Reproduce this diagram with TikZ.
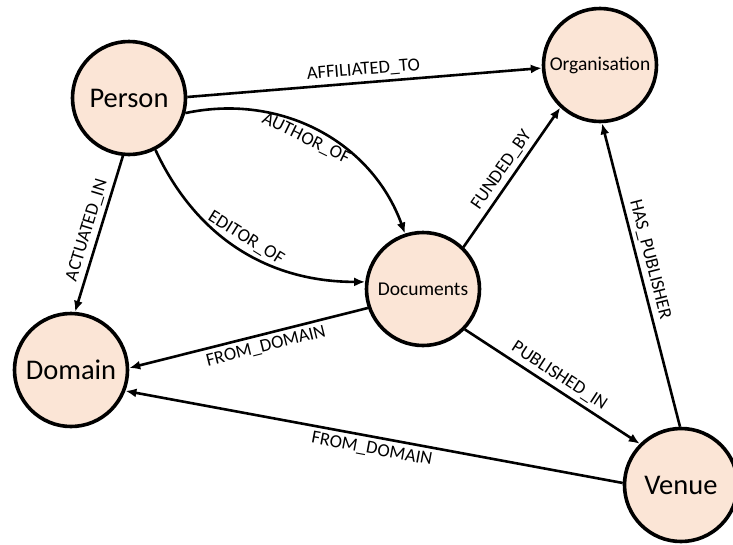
\documentclass[tikz,border=0pt]{standalone}
\usepackage{fontspec}
\setmainfont{Carlito}
\usepackage{tikz}
\usetikzlibrary{arrows.meta}
\usetikzlibrary{positioning}
\definecolor{peach}{HTML}{FBE5D6}
\tikzset{
  ent_n/.style = {circle, draw=black, fill=peach, line width=3.6pt,
    minimum size=113pt, inner sep=0pt, text centered},% entite
  ent_big/.style = {ent_n, font=\fontsize{28.5}{30}\selectfont},% entite, grand texte
  ent_small/.style = {ent_n, font=\fontsize{19.5}{21}\selectfont},% entite, petit texte
  rel/.style = {-{Latex[length=11pt,width=9pt]}, line width=2.6pt},% relation
  rel_lbl/.style = {sloped, inner sep=4pt, font=\fontsize{18.5}{20}\selectfont}% etiquette
}

\begin{document}
\begin{tikzpicture}[x=1pt,y=-1pt]
\useasboundingbox (0,0) rectangle (733,544);
\node [ent_big] (person) at (129,98) {Person};
\node [ent_small] (org) at (600,65) {Organisation};
\node [ent_small] (docs) at (423,289) {Documents};
\node [ent_big] (domain) at (71,370) {Domain};
\node [ent_big] (venue) at (681,485) {Venue};

\draw [rel] (person.1) -- node [rel_lbl, above] {AFFILIATED\_TO} (org.183);
\draw [rel] (person.-15) to[out=12, in=110]
  node [rel_lbl, below, pos=0.47] {AUTHOR\_OF} (docs.108);
\draw [rel] (person.-63) to[out=-65, in=180]
  node [rel_lbl, above, pos=0.5] {EDITOR\_OF} (docs.173);
\draw [rel] (person.-96) -- node [rel_lbl, above] {ACTUATED\_IN} (domain.86);
\draw [rel] (docs.46) -- node [rel_lbl, above] {FUNDED\_BY} (org.227);
\draw [rel] (venue.91) -- node [rel_lbl, above, pos=0.54] {HAS\_PUBLISHER} (org.-88);
\draw [rel] (docs.199) -- node [rel_lbl, below, pos=0.44] {FROM\_DOMAIN} (domain.2);
\draw [rel] (docs.-44) -- node [rel_lbl, above] {PUBLISHED\_IN} (venue.135);
\draw [rel] (venue.178) -- node [rel_lbl, below] {FROM\_DOMAIN} (domain.-21);

%\node at (docs) [xshift=0.5cm,yshift=0.5cm] {Documents};
\end{tikzpicture}
\end{document}
